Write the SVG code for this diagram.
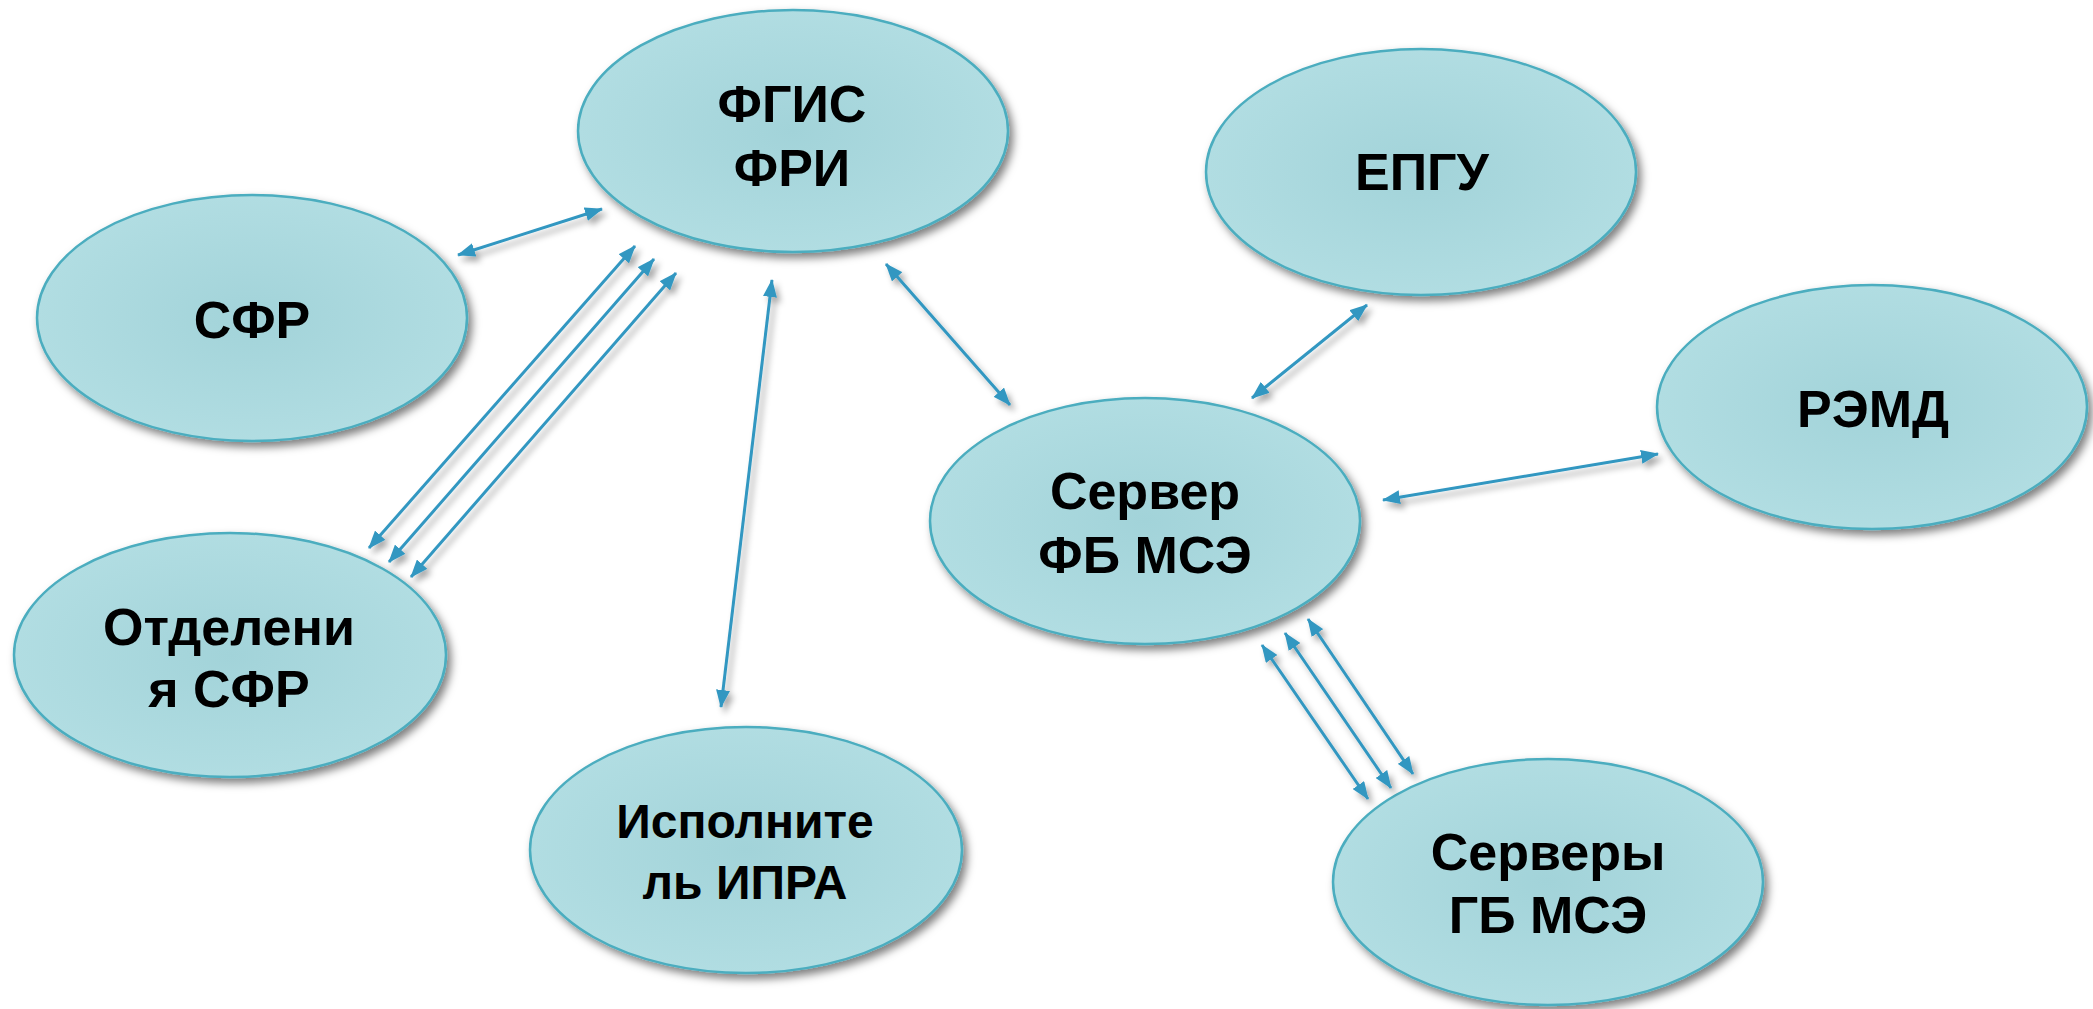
<svg xmlns="http://www.w3.org/2000/svg" width="2093" height="1009" viewBox="0 0 2093 1009">
<defs>
<radialGradient id="fillg" cx="50%" cy="50%" r="50%">
<stop offset="0" stop-color="#A2D3D9"/>
<stop offset="1" stop-color="#B1DDE2"/>
</radialGradient>
<filter id="sh" x="-20%" y="-20%" width="140%" height="140%">
<feDropShadow dx="4" dy="5" stdDeviation="4" flood-color="#000" flood-opacity="0.5"/>
</filter>
<filter id="ash" x="-20%" y="-20%" width="140%" height="140%">
<feDropShadow dx="4" dy="5" stdDeviation="3" flood-color="#000" flood-opacity="0.35"/>
</filter>
<marker id="ah" viewBox="0 0 18 14" refX="17" refY="7" markerWidth="18" markerHeight="14" markerUnits="userSpaceOnUse" orient="auto-start-reverse">
<path d="M0,0 L18,7 L0,14 z" fill="#3197C1"/>
</marker>
</defs>
<style>
.n ellipse{fill:url(#fillg);stroke:#4BADBF;stroke-width:2.5;filter:url(#sh)}
.n text{font-family:"Liberation Sans",Arial,sans-serif;font-weight:bold;font-size:52px;fill:#000;text-anchor:middle}
#c line{stroke:#3197C1;stroke-width:3;marker-start:url(#ah);marker-end:url(#ah)}
</style>
<rect width="2093" height="1009" fill="#fff"/>
<g id="n-fgis" class="n"><ellipse cx="793" cy="131" rx="215" ry="121"/><text x="792" y="122">ФГИС</text><text x="792" y="186">ФРИ</text></g>
<g id="n-sfr" class="n"><ellipse cx="252" cy="318" rx="215" ry="123"/><text x="252" y="338">СФР</text></g>
<g id="n-otd" class="n"><ellipse cx="230" cy="655" rx="216" ry="122"/><text x="229" y="645">Отделени</text><text x="229" y="707">я СФР</text></g>
<g id="n-ipra" class="n"><ellipse cx="746" cy="850" rx="216" ry="123"/><text x="745" y="838" style="font-size:48px">Исполните</text><text x="745" y="899" style="font-size:48px">ль ИПРА</text></g>
<g id="n-epgu" class="n"><ellipse cx="1421" cy="172" rx="215" ry="123"/><text x="1422" y="190">ЕПГУ</text></g>
<g id="n-remd" class="n"><ellipse cx="1872" cy="407" rx="215" ry="122"/><text x="1873" y="427">РЭМД</text></g>
<g id="n-fb" class="n"><ellipse cx="1145" cy="521" rx="215" ry="123"/><text x="1145" y="509">Сервер</text><text x="1145" y="573">ФБ МСЭ</text></g>
<g id="n-gb" class="n"><ellipse cx="1548" cy="882" rx="215" ry="123"/><text x="1548" y="870">Серверы</text><text x="1548" y="933">ГБ МСЭ</text></g>
<g id="c" filter="url(#ash)">
<line x1="458" y1="255" x2="602" y2="209"/>
<line x1="635" y1="246" x2="369" y2="548"/>
<line x1="654" y1="259" x2="389" y2="562"/>
<line x1="676" y1="273" x2="411" y2="577"/>
<line x1="772" y1="280" x2="721" y2="707"/>
<line x1="886" y1="264" x2="1010" y2="405"/>
<line x1="1252" y1="398" x2="1367" y2="305"/>
<line x1="1383" y1="500" x2="1658" y2="454"/>
<line x1="1262" y1="645" x2="1368" y2="799"/>
<line x1="1285" y1="633" x2="1391" y2="788"/>
<line x1="1308" y1="619" x2="1413" y2="774"/>
</g>
</svg>
